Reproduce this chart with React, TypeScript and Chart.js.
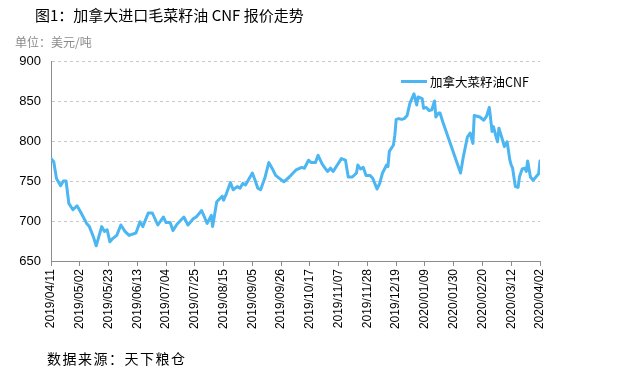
import React, { useEffect, useRef } from "react";
import { Chart, registerables } from "chart.js";

Chart.register(...registerables);

// ---- data ----
const dates: string[] = [
  "2019-04-11", "2019-04-13", "2019-04-15", "2019-04-18", "2019-04-20", "2019-04-22", "2019-04-24", "2019-04-27", "2019-04-30",
  "2019-05-03", "2019-05-07", "2019-05-09", "2019-05-12", "2019-05-14", "2019-05-18", "2019-05-20", "2019-05-22", "2019-05-24",
  "2019-05-26", "2019-05-29", "2019-06-01", "2019-06-04", "2019-06-07", "2019-06-12", "2019-06-15", "2019-06-17", "2019-06-21",
  "2019-06-24", "2019-06-28", "2019-07-02", "2019-07-04", "2019-07-07", "2019-07-09", "2019-07-12", "2019-07-17", "2019-07-20",
  "2019-07-24", "2019-07-26", "2019-07-30", "2019-08-01", "2019-08-03", "2019-08-06", "2019-08-07", "2019-08-10", "2019-08-14",
  "2019-08-15", "2019-08-17", "2019-08-20", "2019-08-22", "2019-08-25", "2019-08-27", "2019-08-29", "2019-08-31", "2019-09-05",
  "2019-09-07", "2019-09-09", "2019-09-11", "2019-09-14", "2019-09-17", "2019-09-20", "2019-09-22", "2019-09-25", "2019-09-28",
  "2019-10-02", "2019-10-07", "2019-10-11", "2019-10-13", "2019-10-16", "2019-10-18", "2019-10-21", "2019-10-23", "2019-10-26",
  "2019-10-29", "2019-10-30", "2019-11-01", "2019-11-03", "2019-11-06", "2019-11-09", "2019-11-12", "2019-11-14", "2019-11-17",
  "2019-11-20", "2019-11-21", "2019-11-23", "2019-11-25", "2019-11-27", "2019-11-30", "2019-12-02", "2019-12-05", "2019-12-07",
  "2019-12-09", "2019-12-12", "2019-12-13", "2019-12-14", "2019-12-17", "2019-12-18", "2019-12-19", "2019-12-21", "2019-12-23",
  "2019-12-25", "2019-12-27", "2019-12-29", "2019-12-30", "2020-01-01", "2020-01-03", "2020-01-04", "2020-01-07", "2020-01-08",
  "2020-01-10", "2020-01-12", "2020-01-14", "2020-01-16", "2020-01-17", "2020-01-19", "2020-01-20", "2020-01-22", "2020-02-04",
  "2020-02-06", "2020-02-09", "2020-02-11", "2020-02-13", "2020-02-14", "2020-02-16", "2020-02-18", "2020-02-21", "2020-02-23",
  "2020-02-25", "2020-02-27", "2020-02-28", "2020-03-01", "2020-03-02", "2020-03-03", "2020-03-05", "2020-03-07", "2020-03-09",
  "2020-03-11", "2020-03-12", "2020-03-13", "2020-03-15", "2020-03-17", "2020-03-18", "2020-03-20", "2020-03-22", "2020-03-23",
  "2020-03-24", "2020-03-26", "2020-03-28", "2020-03-30", "2020-04-01", "2020-04-02",
];

const prices: number[] = [
  778, 774, 753, 744, 750, 750, 722, 714, 719,
  710, 697, 693, 680, 669, 693, 687, 689, 674,
  678, 682, 695, 687, 682, 685, 699, 693, 710,
  710, 695, 705, 698, 698, 688, 696, 705, 695,
  703, 705, 713, 705, 697, 707, 693, 724, 731,
  726, 734, 748, 739, 743, 741, 747, 745, 760,
  751, 741, 739, 753, 773, 764, 757, 753, 749,
  755, 764, 767, 766, 776, 773, 773, 782, 771,
  764, 762, 766, 762, 770, 778, 776, 755, 755,
  760, 770, 765, 767, 757, 757, 753, 740, 747,
  760, 770, 768, 787, 795, 807, 827, 828, 827,
  828, 832, 847, 851, 859, 845, 855, 853, 841,
  842, 838, 839, 850, 830, 835, 835, 824, 760,
  780, 805, 810, 797, 832, 831, 830, 826, 831,
  842, 812, 818, 805, 799, 816, 805, 793, 799,
  776, 770, 766, 743, 742, 755, 765, 766, 762,
  775, 755, 751, 755, 759, 775,
];

const seriesName = "加拿大菜籽油CNF";
const tickStartDate = "2019-04-11";
const tickEndDate = "2020-04-02";
const tickStepDays = 21;
const yMin = 650;
const yMax = 900;
const yStep = 50;

const titleText = "图1：加拿大进口毛菜籽油 CNF 报价走势";
const unitText = "单位：美元/吨";
const sourceText = "数据来源：天下粮仓";

const DAY = 86400000;
const toUtc = (s: string) => {
  const [y, m, d] = s.split("-").map(Number);
  return Date.UTC(y, m - 1, d);
};
const startMs = toUtc(tickStartDate);
const dayOffset = (s: string) => Math.round((toUtc(s) - startMs) / DAY);
const fmtTick = (off: number) => {
  const dt = new Date(startMs + off * DAY);
  const mm = String(dt.getUTCMonth() + 1).padStart(2, "0");
  const dd = String(dt.getUTCDate()).padStart(2, "0");
  return `${dt.getUTCFullYear()}/${mm}/${dd}`;
};

const LINE_COLOR = "#4BB6F2";
const CJK = '"Noto Sans CJK SC", "Noto Sans", sans-serif';
const LATIN = '"Liberation Sans", Arial, sans-serif';

export default function App() {
  const ref = useRef<HTMLCanvasElement | null>(null);

  useEffect(() => {
    if (!ref.current) return;
    const maxDay = dayOffset(tickEndDate);
    const points = dates.map((d, i) => ({ x: dayOffset(d), y: prices[i] }));
    const chart = new Chart(ref.current, {
      type: "line",
      data: {
        datasets: [
          {
            label: seriesName,
            data: points,
            borderColor: LINE_COLOR,
            backgroundColor: LINE_COLOR,
            borderWidth: 3,
            pointRadius: 0,
            tension: 0,
            fill: false,
            borderJoinStyle: "round",
            borderCapStyle: "round",
          },
        ],
      },
      options: {
        responsive: false,
        animation: false,
        devicePixelRatio: 1,
        layout: { padding: { left: 0, right: 88, top: 61, bottom: 0 } },
        plugins: { legend: { display: false }, tooltip: { enabled: false } },
        scales: {
          x: {
            type: "linear",
            min: 0,
            max: maxDay,
            afterBuildTicks: (scale: any) => {
              const t = [];
              for (let v = 0; v <= maxDay; v += tickStepDays) t.push({ value: v });
              scale.ticks = t;
            },
            ticks: {
              autoSkip: false,
              minRotation: 90,
              maxRotation: 90,
              padding: 3,
              color: "#000",
              font: { family: LATIN, size: 12 },
              callback: (v: any) => fmtTick(Number(v)),
            },
            grid: {
              drawOnChartArea: false,
              drawTicks: true,
              tickLength: 5,
              color: "#8c8c8c",
            },
            border: { display: true, color: "#8c8c8c", width: 1 },
            afterFit: (s: any) => {
              s.height = 114;
            },
          },
          y: {
            min: yMin,
            max: yMax,
            ticks: {
              stepSize: yStep,
              padding: 10,
              color: "#000",
              font: { family: LATIN, size: 13 },
            },
            grid: { color: "#c8c8c8", drawTicks: false, lineWidth: 1 },
            border: { display: true, color: "#8c8c8c", width: 1, dash: [3, 3] },
            afterFit: (s: any) => {
              s.width = 51;
            },
          },
        },
      },
    });
    return () => chart.destroy();
  }, []);

  return (
    <div
      style={{
        position: "absolute",
        left: 0,
        top: 0,
        width: 628,
        height: 375,
        background: "#fff",
        overflow: "hidden",
      }}
    >
      <canvas ref={ref} width={628} height={375} style={{ display: "block", position: "absolute", left: 0, top: 0 }} />
      <div
        style={{
          position: "absolute",
          left: 35,
          top: 5,
          fontFamily: CJK,
          fontSize: 15,
          fontWeight: 400,
          color: "#000",
          whiteSpace: "nowrap",
          lineHeight: "20px",
        }}
      >
        {titleText}
      </div>
      <div
        style={{
          position: "absolute",
          left: 15,
          top: 34,
          fontFamily: CJK,
          fontSize: 12,
          color: "#8a8a8a",
          whiteSpace: "nowrap",
          lineHeight: "16px",
        }}
      >
        {unitText}
      </div>
      <div
        style={{
          position: "absolute",
          left: 401,
          top: 80,
          width: 26,
          height: 3,
          background: LINE_COLOR,
        }}
      />
      <div
        style={{
          position: "absolute",
          left: 430,
          top: 73,
          fontFamily: CJK,
          fontSize: 12.5,
          color: "#000",
          whiteSpace: "nowrap",
          lineHeight: "17px",
        }}
      >
        {seriesName}
      </div>
      <div
        style={{
          position: "absolute",
          left: 47,
          top: 349,
          fontFamily: CJK,
          fontSize: 14,
          letterSpacing: "1.5px",
          color: "#000",
          whiteSpace: "nowrap",
          lineHeight: "18px",
        }}
      >
        {sourceText}
      </div>
    </div>
  );
}
